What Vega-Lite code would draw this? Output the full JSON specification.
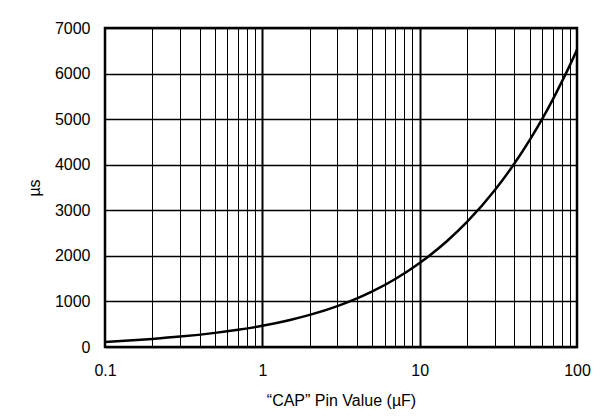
{
  "$schema": "https://vega.github.io/schema/vega-lite/v6.json",
  "width": 472,
  "height": 319,
  "autosize": {"type": "none"},
  "padding": {"left": 105, "top": 28, "right": 35, "bottom": 71},
  "background": "white",
  "config": {
    "view": {"stroke": "black", "strokeWidth": 2.5},
    "font": "Liberation Sans"
  },
  "data": {
    "values": [
      {"cap": 0.1, "us": 110},
      {"cap": 0.15, "us": 148},
      {"cap": 0.2, "us": 178},
      {"cap": 0.3, "us": 228},
      {"cap": 0.5, "us": 310},
      {"cap": 0.7, "us": 378},
      {"cap": 1, "us": 465},
      {"cap": 1.5, "us": 593},
      {"cap": 2, "us": 704},
      {"cap": 3, "us": 898},
      {"cap": 4, "us": 1067},
      {"cap": 5, "us": 1220},
      {"cap": 7, "us": 1493},
      {"cap": 10, "us": 1843},
      {"cap": 15, "us": 2331},
      {"cap": 20, "us": 2745},
      {"cap": 30, "us": 3440},
      {"cap": 40, "us": 4026},
      {"cap": 50, "us": 4540},
      {"cap": 60, "us": 5000},
      {"cap": 70, "us": 5424},
      {"cap": 80, "us": 5817},
      {"cap": 90, "us": 6180},
      {"cap": 100, "us": 6525}
    ]
  },
  "mark": {"type": "line", "color": "black", "strokeWidth": 2.5, "interpolate": "monotone", "clip": true},
  "encoding": {
    "x": {
      "field": "cap",
      "type": "quantitative",
      "scale": {"type": "log", "domain": [0.1, 100], "nice": false},
      "axis": {
        "values": [0.1, 0.2, 0.3, 0.4, 0.5, 0.6, 0.7, 0.8, 0.9, 1, 2, 3, 4, 5, 6, 7, 8, 9, 10, 20, 30, 40, 50, 60, 70, 80, 90, 100],
        "format": "~g",
        "labelExpr": "(datum.value == 0.1 || datum.value == 1 || datum.value == 10 || datum.value == 100) ? datum.label : ''",
        "title": "“CAP” Pin Value (µF)",
        "grid": true,
        "gridColor": "black",
        "gridOpacity": 1,
        "gridWidth": {"condition": {"test": "datum.value == 1 || datum.value == 10", "value": 2}, "value": 1},
        "ticks": false,
        "tickSize": 0,
        "domain": false,
        "labelPadding": 15,
        "labelFontSize": 16,
        "labelColor": "black",
        "labelOverlap": false,
        "labelFlush": false,
        "labelBound": false,
        "titleFontSize": 16,
        "titleFontWeight": "normal",
        "titleColor": "black",
        "titlePadding": 14
      }
    },
    "y": {
      "field": "us",
      "type": "quantitative",
      "scale": {"domain": [0, 7000], "nice": false},
      "axis": {
        "values": [0, 1000, 2000, 3000, 4000, 5000, 6000, 7000],
        "format": "d",
        "title": "µs",
        "grid": true,
        "gridColor": "black",
        "gridOpacity": 1,
        "gridWidth": 1.3,
        "ticks": false,
        "tickSize": 0,
        "domain": false,
        "labelPadding": 15,
        "labelFontSize": 16,
        "labelColor": "black",
        "titleFontSize": 16,
        "titleFontWeight": "normal",
        "titleColor": "black",
        "titlePadding": 12
      }
    }
  }
}
